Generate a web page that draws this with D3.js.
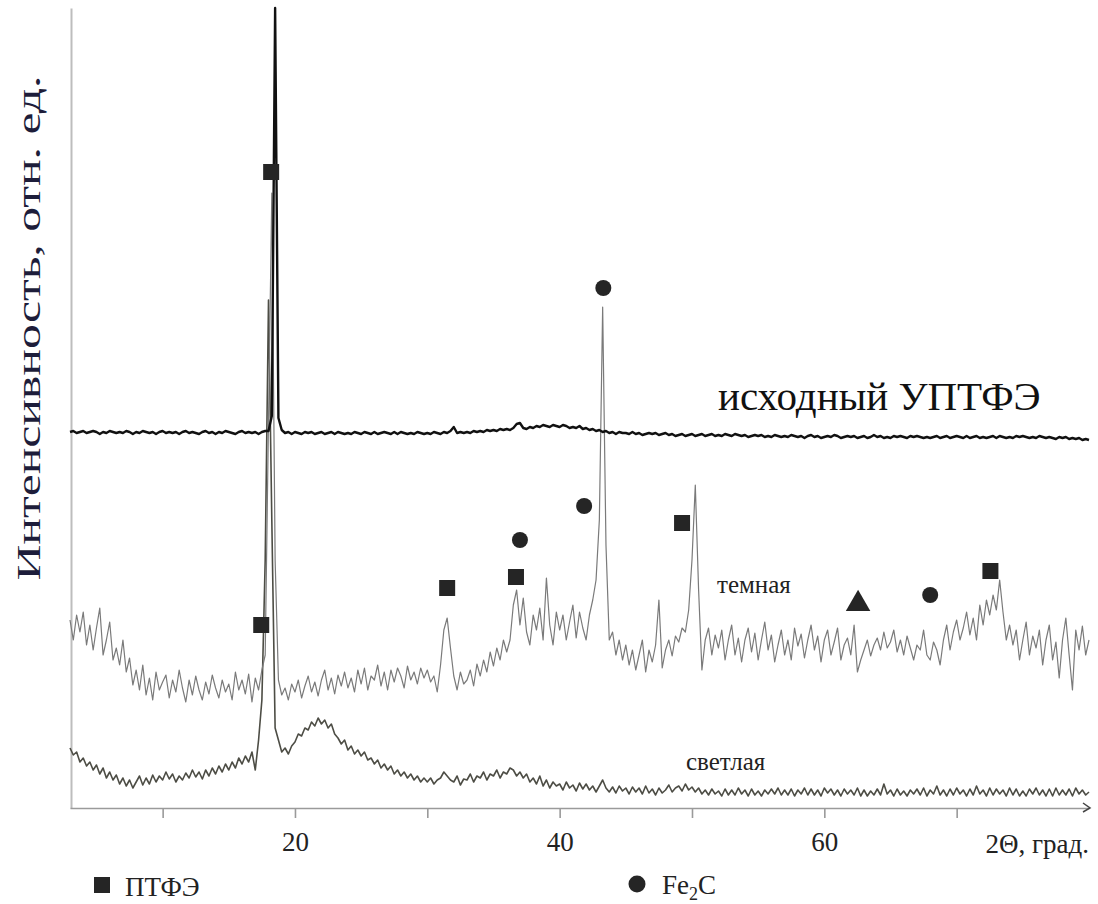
<!DOCTYPE html>
<html>
<head>
<meta charset="utf-8">
<script src="https://cdn.jsdelivr.net/npm/d3@7"></script>
<style>
  html, body { margin: 0; padding: 0; background: #fff; }
  svg { display: block; }
</style>
</head>
<body>
<svg id="chart" width="1098" height="904"></svg>
<script>
// ---------- DATA ----------
// 2θ grid: from 3° to 80° with step 0.25°
const thetaStart = 3;
const thetaStep = 0.25;

// исходный УПТФЭ (intensity, arb. units)
const initialSeries = [
376,377,375,376, 377,375,376,377, 376,374,376,375, 377,376,375,376, 375,377,376,374,
376,375,377,376, 375,376,374,376, 377,375,376,375, 376,374,376,377, 375,376,375,374,
376,377,375,376, 374,376,375,377, 376,375,374,376, 377,375,376,375, 376,374,376,377,
377,392,800,390, 378,375,376,374, 376,375,374,376, 375,376,374,375, 376,374,375,376,
374,376,375,374, 375,374,376,375, 374,376,375,374, 376,374,375,376, 375,374,376,374,
376,375,374,375, 374,376,375,374, 375,374,376,375, 374,376,375,377, 381,375,376,375,
376,375,377,376, 377,376,378,377, 378,377,379,378, 379,378,380,384, 385,380,379,381,
380,382,381,383, 382,381,383,382, 381,383,382,380, 381,380,382,379, 380,378,379,377,
378,376,377,375, 376,374,376,375, 375,374,376,374, 375,373,374,375, 374,375,373,374,
375,373,374,372, 373,374,372,373, 374,372,373,374, 372,373,374,372, 373,372,374,373,
372,374,373,372, 373,371,372,373, 372,373,371,372, 371,373,372,371, 372,371,373,372,
371,372,370,372, 373,371,372,370, 371,372,371,373, 372,370,371,372, 371,372,370,371,
372,370,371,373, 371,372,370,371, 370,372,371,372, 371,370,372,371, 372,371,370,371,
370,371,372,370, 371,372,370,371, 372,371,370,372, 370,371,372,370, 371,370,371,372,
370,372,371,370, 371,370,372,371, 372,371,370,371, 370,372,371,370, 371,370,369,371,
370,371,369,370, 369,370,368,369, 368
];

// темная (dark fraction)
const darkSeries = [
188,168,193,176, 196,163,183,158, 180,200,153,168, 186,148,160,143, 168,136,150,123,
138,118,143,113, 130,108,136,118, 126,133,110,128, 116,138,120,106, 128,113,132,118,
108,126,114,133, 120,110,128,116, 124,108,136,118, 128,114,134,106, 130,118,138,153,
388,615,248,128, 113,120,108,124, 116,128,110,122, 132,116,126,112, 128,138,118,130,
114,133,122,136, 120,130,116,138, 124,140,118,132, 128,143,122,136, 118,138,126,140,
132,120,142,128, 136,124,140,130, 138,126,132,116, 143,178,190,160, 132,118,136,124,
128,138,122,144, 132,148,136,156, 142,160,148,168, 156,168,203,218, 183,210,176,163,
193,178,200,168, 230,183,163,196, 178,193,168,186, 203,170,196,180, 168,193,208,228,
288,501,263,168, 176,153,168,148, 163,143,158,138, 153,168,136,158, 146,163,208,140,
158,168,152,172, 166,180,176,198, 248,323,218,138, 168,180,153,173, 160,178,148,168,
183,153,170,146, 168,180,156,175, 148,168,186,158, 173,146,163,178, 153,168,148,180,
162,174,150,168, 183,158,172,146, 168,178,153,166, 180,148,163,170, 153,183,136,148,
158,168,152,163, 170,158,176,160, 166,178,156,168, 153,172,160,148, 163,158,178,153,
148,166,158,143, 168,183,158,176, 188,168,180,196, 173,190,168,203, 183,208,193,213,
198,228,196,168, 183,163,178,148, 168,186,153,172, 160,178,143,168, 183,148,166,130,
168,190,153,118, 178,158,182,153, 168
];

// светлая (light fraction)
const lightSeries = [
60,53,56,46, 50,42,46,38, 43,34,40,30, 36,28,33,24, 30,22,28,20,
26,32,23,30, 24,33,26,32, 28,36,29,34, 26,32,28,35, 30,38,31,36,
29,38,32,40, 34,42,36,44, 38,46,40,50, 44,52,46,56, 38,68,108,248,
508,288,80,68, 56,60,54,62, 66,74,72,80, 78,86,82,90, 84,88,80,84,
74,70,64,68, 58,62,54,58, 52,56,48,50, 44,48,40,44, 38,42,34,38,
32,36,30,34, 28,32,26,30, 26,30,24,28, 30,36,32,28, 26,32,23,29,
28,34,26,32, 30,36,28,34, 32,38,30,36, 34,40,38,32, 36,30,34,26,
30,24,32,22, 28,20,26,22, 24,18,26,20, 23,17,25,19, 24,18,22,16,
22,28,20,16, 21,15,22,17, 20,14,21,16, 20,14,22,15, 19,13,20,15,
18,23,16,20, 22,17,24,18, 21,16,20,14, 18,13,19,14, 17,12,19,13,
18,13,20,14, 18,12,19,13, 17,12,18,14, 19,14,20,13, 18,13,19,12,
18,14,20,13, 19,13,18,12, 20,15,19,13, 18,12,19,14, 18,13,20,12,
18,12,17,13, 19,13,24,14, 18,12,19,13, 17,12,18,14, 19,13,20,12,
18,14,22,13, 18,12,19,13, 20,14,18,12, 19,13,22,14, 18,12,20,13,
19,14,18,12, 20,13,19,12, 17,12,19,14, 20,13,18,12, 19,12,20,13,
18,13,19,12, 20,14,18,13, 16
];

// phase markers on the dark pattern
const markerShapes = ["square","square","square","square","circle","circle","circle","square","triangle","circle","square"];
const markerTheta  = [17.45, 18.2, 31.5, 36.7, 37.0, 41.85, 43.3, 49.25, 62.55, 68.0, 72.55];
const markerValue  = [183, 636, 220, 231, 268, 302, 520, 285, 206, 213, 237];

// axis
const xTickValues = [10, 20, 30, 40, 50, 60, 70];
const xTickLabels = ["", "20", "", "40", "", "60", ""];
const xAxisTitle = "2Θ, град.";
const yAxisTitle = "Интенсивность, отн. ед.";
const seriesLabels = ["исходный УПТФЭ", "темная", "светлая"];
const legendLabels = ["ПТФЭ", "Fe", "2", "C"];

// ---------- DRAW ----------
const svg = d3.select("#chart");
const serif = "'Liberation Serif', 'DejaVu Serif', serif";

const x = d3.scaleLinear().domain([3, 80]).range([70, 1089]);
const y = d3.scaleLinear().domain([0, 800]).range([808, 8]);

const toPoints = arr => arr.map((v, i) => [thetaStart + i * thetaStep, v]);
const line = d3.line().x(d => x(d[0])).y(d => y(d[1]));

// left axis (plain line)
const yAxis = d3.axisLeft(y).tickValues([]).tickSizeOuter(0);
const gy = svg.append("g").attr("transform", "translate(71,0)").call(yAxis);
gy.select(".domain").attr("stroke", "#bdbdbd").attr("stroke-width", 2);

// bottom axis
const xAxis = d3.axisBottom(x)
  .tickValues(xTickValues)
  .tickFormat((d, i) => xTickLabels[i])
  .tickSize(10)
  .tickSizeOuter(0)
  .tickPadding(14);
const gx = svg.append("g").attr("transform", "translate(0,808)").call(xAxis);
gx.select(".domain").attr("stroke", "#9a9a9a").attr("stroke-width", 1.6);
gx.selectAll(".tick line").attr("stroke", "#9a9a9a").attr("stroke-width", 1.6);
gx.selectAll(".tick text")
  .attr("font-family", serif).attr("font-size", 27).attr("fill", "#222");

// arrow tip at the end of x axis
svg.append("path")
  .attr("d", d3.line()([[x(80) - 6, 803], [x(80) + 1, 808], [x(80) - 6, 812]]))
  .attr("fill", "none").attr("stroke", "#444").attr("stroke-width", 1.5);

svg.append("text")
  .attr("x", x(80)).attr("y", 853)
  .attr("text-anchor", "end")
  .attr("font-family", serif).attr("font-size", 27).attr("fill", "#222")
  .text(xAxisTitle);

// y title
svg.append("text")
  .attr("transform", "translate(40,328) rotate(-90)")
  .attr("text-anchor", "middle")
  .attr("font-family", serif).attr("font-size", 34).attr("fill", "#1d1d3a")
  .attr("textLength", 505).attr("lengthAdjust", "spacingAndGlyphs")
  .text(yAxisTitle);

// series lines
svg.append("path").datum(toPoints(lightSeries))
  .attr("d", line).attr("fill", "none")
  .attr("stroke", "#4d4d45").attr("stroke-width", 1.6).attr("stroke-linejoin", "round");

svg.append("path").datum(toPoints(darkSeries))
  .attr("d", line).attr("fill", "none")
  .attr("stroke", "#7a7a7a").attr("stroke-width", 1.2).attr("stroke-linejoin", "round");

svg.append("path").datum(toPoints(initialSeries))
  .attr("d", line).attr("fill", "none")
  .attr("stroke", "#111").attr("stroke-width", 2.4).attr("stroke-linejoin", "round");

// markers
const markerColor = "#252525";
markerShapes.forEach((s, i) => {
  const cx = x(markerTheta[i]), cy = y(markerValue[i]);
  if (s === "square") {
    svg.append("rect").attr("x", cx - 8).attr("y", cy - 8)
      .attr("width", 16).attr("height", 16).attr("fill", markerColor);
  } else if (s === "circle") {
    svg.append("circle").attr("cx", cx).attr("cy", cy).attr("r", 8).attr("fill", markerColor);
  } else {
    svg.append("path")
      .attr("d", d3.symbol(d3.symbolTriangle, 260)())
      .attr("transform", `translate(${cx},${cy + 2})`)
      .attr("fill", markerColor);
  }
});

// series labels
svg.append("text").attr("x", 718).attr("y", 410)
  .attr("font-family", serif).attr("font-size", 41).attr("fill", "#111")
  .text(seriesLabels[0]);
svg.append("text").attr("x", 717).attr("y", 593)
  .attr("font-family", serif).attr("font-size", 25).attr("fill", "#222")
  .text(seriesLabels[1]);
svg.append("text").attr("x", 686).attr("y", 770)
  .attr("font-family", serif).attr("font-size", 25).attr("fill", "#222")
  .text(seriesLabels[2]);

// legend
svg.append("rect").attr("x", 94).attr("y", 877).attr("width", 16).attr("height", 16).attr("fill", markerColor);
svg.append("text").attr("x", 125).attr("y", 896)
  .attr("font-family", serif).attr("font-size", 27).attr("fill", "#222")
  .text(legendLabels[0]);
svg.append("circle").attr("cx", 637).attr("cy", 884).attr("r", 8.5).attr("fill", markerColor);
const fe = svg.append("text").attr("x", 662).attr("y", 894)
  .attr("font-family", serif).attr("font-size", 27).attr("fill", "#222");
fe.append("tspan").text(legendLabels[1]);
fe.append("tspan").attr("font-size", 18).attr("dy", 6).text(legendLabels[2]);
fe.append("tspan").attr("dy", -6).text(legendLabels[3]);
</script>
</body>
</html>
